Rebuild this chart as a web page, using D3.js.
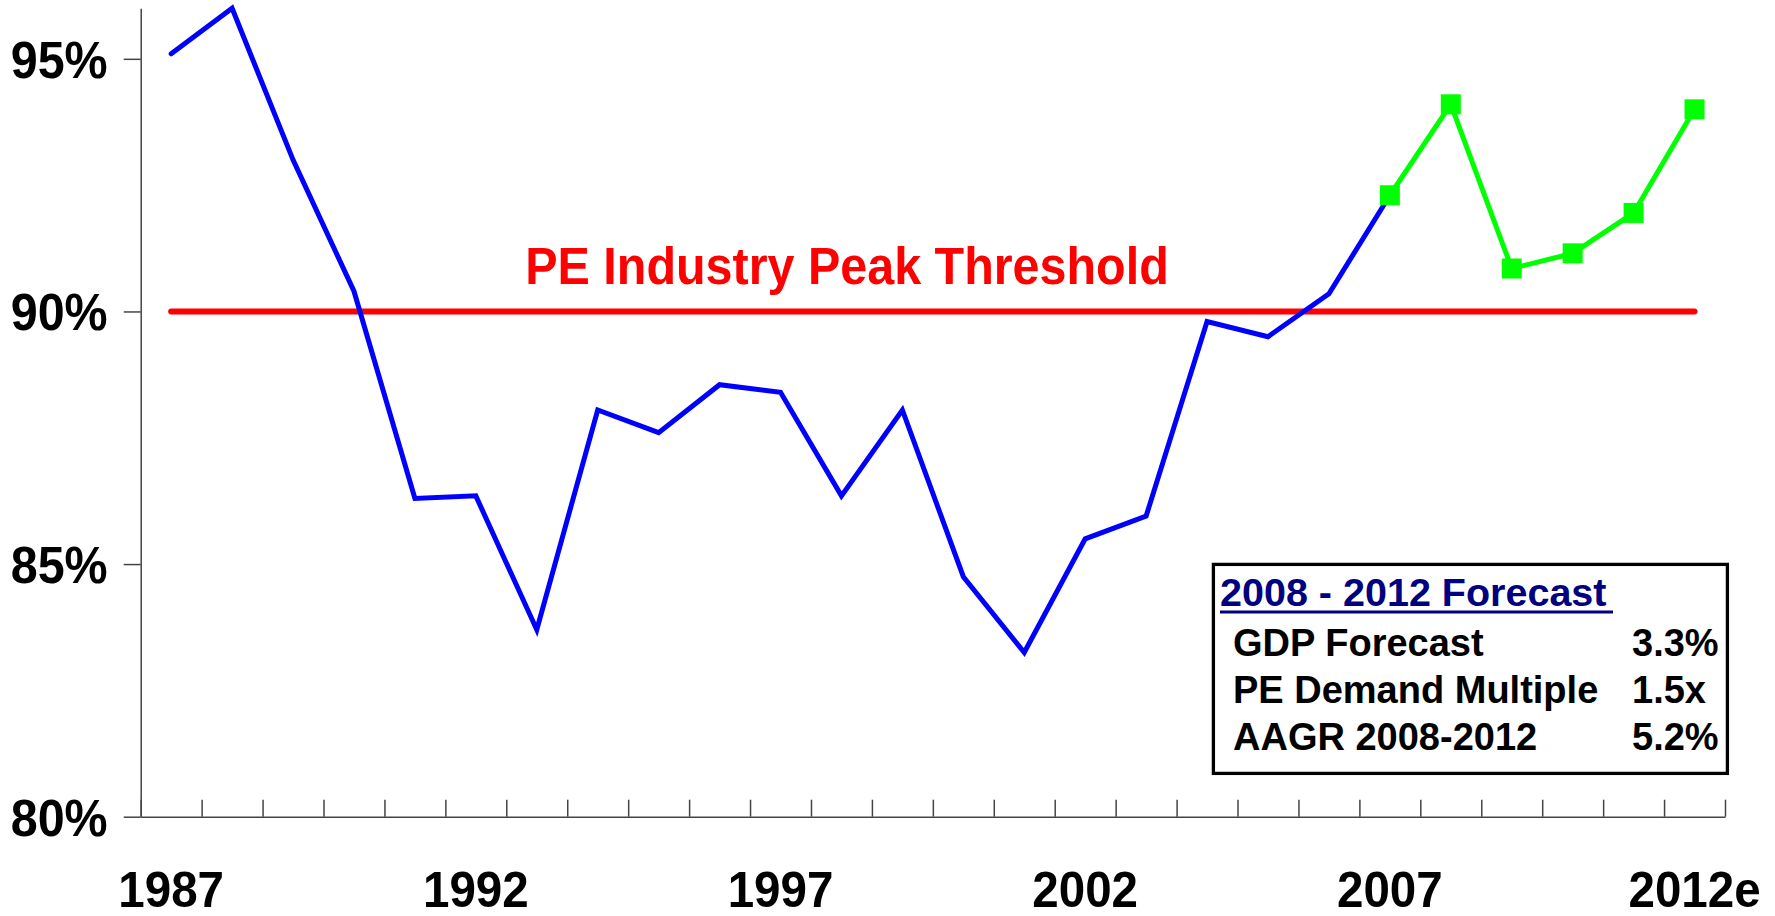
<!DOCTYPE html>
<html>
<head>
<meta charset="utf-8">
<script src="https://cdn.jsdelivr.net/npm/d3@7"></script>
<style>
  body { margin: 0; background: #fff; }
  text { font-family: "Liberation Sans", Arial, sans-serif; font-weight: bold; }
</style>
</head>
<body>
<div id="chart"></div>
<script>
// categories (one per year), last one is the estimate
var years = ["1987","1988","1989","1990","1991","1992","1993","1994","1995","1996",
             "1997","1998","1999","2000","2001","2002","2003","2004","2005","2006",
             "2007","2008","2009","2010","2011","2012e"]
var labelYears = ["1987","1992","1997","2002","2007","2012e"]

// operating rate, actual 1987-2007
var actualYears = years.slice(0, 21)
var actual = [95.1, 96.0, 93.0, 90.4, 86.3, 86.35, 83.7, 88.05, 87.6, 88.55,
              88.4, 86.35, 88.05, 84.75, 83.25, 85.5, 85.95, 89.8, 89.5, 90.35, 92.3]

// forecast 2007-2012e
var forecastYears = years.slice(20)
var forecast = [92.3, 94.1, 90.85, 91.15, 91.95, 94.0]

var threshold = 90
var thresholdLabel = "PE Industry Peak Threshold"
var yTicks = [80, 85, 90, 95]

var boxTitle = "2008 - 2012 Forecast"
var boxLabels = ["GDP Forecast", "PE Demand Multiple", "AAGR 2008-2012"]
var boxValues = ["3.3%", "1.5x", "5.2%"]

var width = 1775, height = 916
var plotLeft = 140.7, plotRight = 1725, plotTop = 8.3, plotBottom = 816.7

var svg = d3.select("#chart")
    .append("svg")
        .attr("width", width)
        .attr("height", height)

var x = d3.scaleBand()
    .domain(years)
    .range([plotLeft, plotRight])

var xEdge = d3.scaleLinear()
    .domain([0, years.length])
    .range([plotLeft, plotRight])

var y = d3.scaleLinear()
    .domain([80, 96])
    .range([plotBottom, plotTop])

var cx = d => x(d) + x.bandwidth() / 2

// squeeze text a little, the source fonts are narrower than Arial
function squeeze(sel, k) {
    sel.each(function () {
        var w = this.getComputedTextLength()
        d3.select(this).attr("textLength", w * k).attr("lengthAdjust", "spacingAndGlyphs")
    })
}

// y axis
var yAxis = svg.append("g")
    .attr("transform", "translate(" + plotLeft + ",0)")
    .call(d3.axisLeft(y)
        .tickValues(yTicks)
        .tickSize(17)
        .tickSizeOuter(0)
        .tickPadding(16)
        .tickFormat(d => d + "%"))
yAxis.selectAll("path, line").attr("stroke", "#444").attr("stroke-width", 1.5)
yAxis.selectAll("text")
    .attr("fill", "#000")
    .attr("dy", "0.36em")
    .style("font-size", "51px")
    .call(squeeze, 0.95)

// x axis: ticks between the years
var xAxis = svg.append("g")
    .attr("transform", "translate(0," + plotBottom + ")")
    .call(d3.axisBottom(xEdge)
        .tickValues(d3.range(years.length + 1))
        .tickSize(-17)
        .tickSizeOuter(0)
        .tickFormat(""))
xAxis.selectAll("path, line").attr("stroke", "#444").attr("stroke-width", 1.5)

var xLabels = svg.append("g")
    .attr("transform", "translate(0," + plotBottom + ")")
    .call(d3.axisBottom(x)
        .tickValues(labelYears)
        .tickSize(0)
        .tickPadding(55))
xLabels.select(".domain").remove()
xLabels.selectAll("text")
    .attr("fill", "#000")
    .style("font-size", "50px")
    .call(squeeze, 0.95)

// threshold
svg.append("line")
    .attr("x1", cx(years[0]))
    .attr("x2", cx(years[years.length - 1]))
    .attr("y1", y(threshold))
    .attr("y2", y(threshold))
    .attr("stroke", "#ff0000")
    .attr("stroke-width", 6)
    .attr("stroke-linecap", "round")

svg.append("text")
    .attr("x", 847)
    .attr("y", 284)
    .attr("text-anchor", "middle")
    .attr("fill", "#ff0000")
    .style("font-size", "51px")
    .text(thresholdLabel)
    .call(squeeze, 0.95)

// actual line
var line = d3.line()
    .x(d => cx(d[0]))
    .y(d => y(d[1]))

svg.append("path")
    .datum(d3.zip(actualYears, actual))
    .attr("fill", "none")
    .attr("stroke", "#0000ff")
    .attr("stroke-width", 5)
    .attr("stroke-linecap", "round")
    .attr("d", line)

// forecast line + markers
svg.append("path")
    .datum(d3.zip(forecastYears, forecast))
    .attr("fill", "none")
    .attr("stroke", "#00ff00")
    .attr("stroke-width", 5)
    .attr("d", line)

svg.selectAll(".mark")
    .data(d3.zip(forecastYears, forecast))
    .enter().append("rect")
        .attr("class", "mark")
        .attr("x", d => cx(d[0]) - 10)
        .attr("y", d => y(d[1]) - 10)
        .attr("width", 20)
        .attr("height", 20)
        .attr("fill", "#00ff00")

// forecast box
var box = svg.append("g")
box.append("rect")
    .attr("x", 1213.4)
    .attr("y", 564.4)
    .attr("width", 514)
    .attr("height", 209)
    .attr("fill", "#fff")
    .attr("stroke", "#000")
    .attr("stroke-width", 3.3)

box.append("text")
    .attr("x", 1220)
    .attr("y", 606)
    .attr("fill", "#000080")
    .style("font-size", "39.5px")
    .text(boxTitle)

box.append("line")
    .attr("x1", 1220)
    .attr("x2", 1613)
    .attr("y1", 612)
    .attr("y2", 612)
    .attr("stroke", "#000080")
    .attr("stroke-width", 3)

box.selectAll(".lab")
    .data(boxLabels)
    .enter().append("text")
        .attr("class", "lab")
        .attr("x", 1233)
        .attr("y", (d, i) => 656 + i * 47)
        .style("font-size", "38px")
        .text(d => d)

box.selectAll(".val")
    .data(boxValues)
    .enter().append("text")
        .attr("class", "val")
        .attr("x", 1632)
        .attr("y", (d, i) => 656 + i * 47)
        .style("font-size", "38px")
        .text(d => d)
</script>
</body>
</html>
